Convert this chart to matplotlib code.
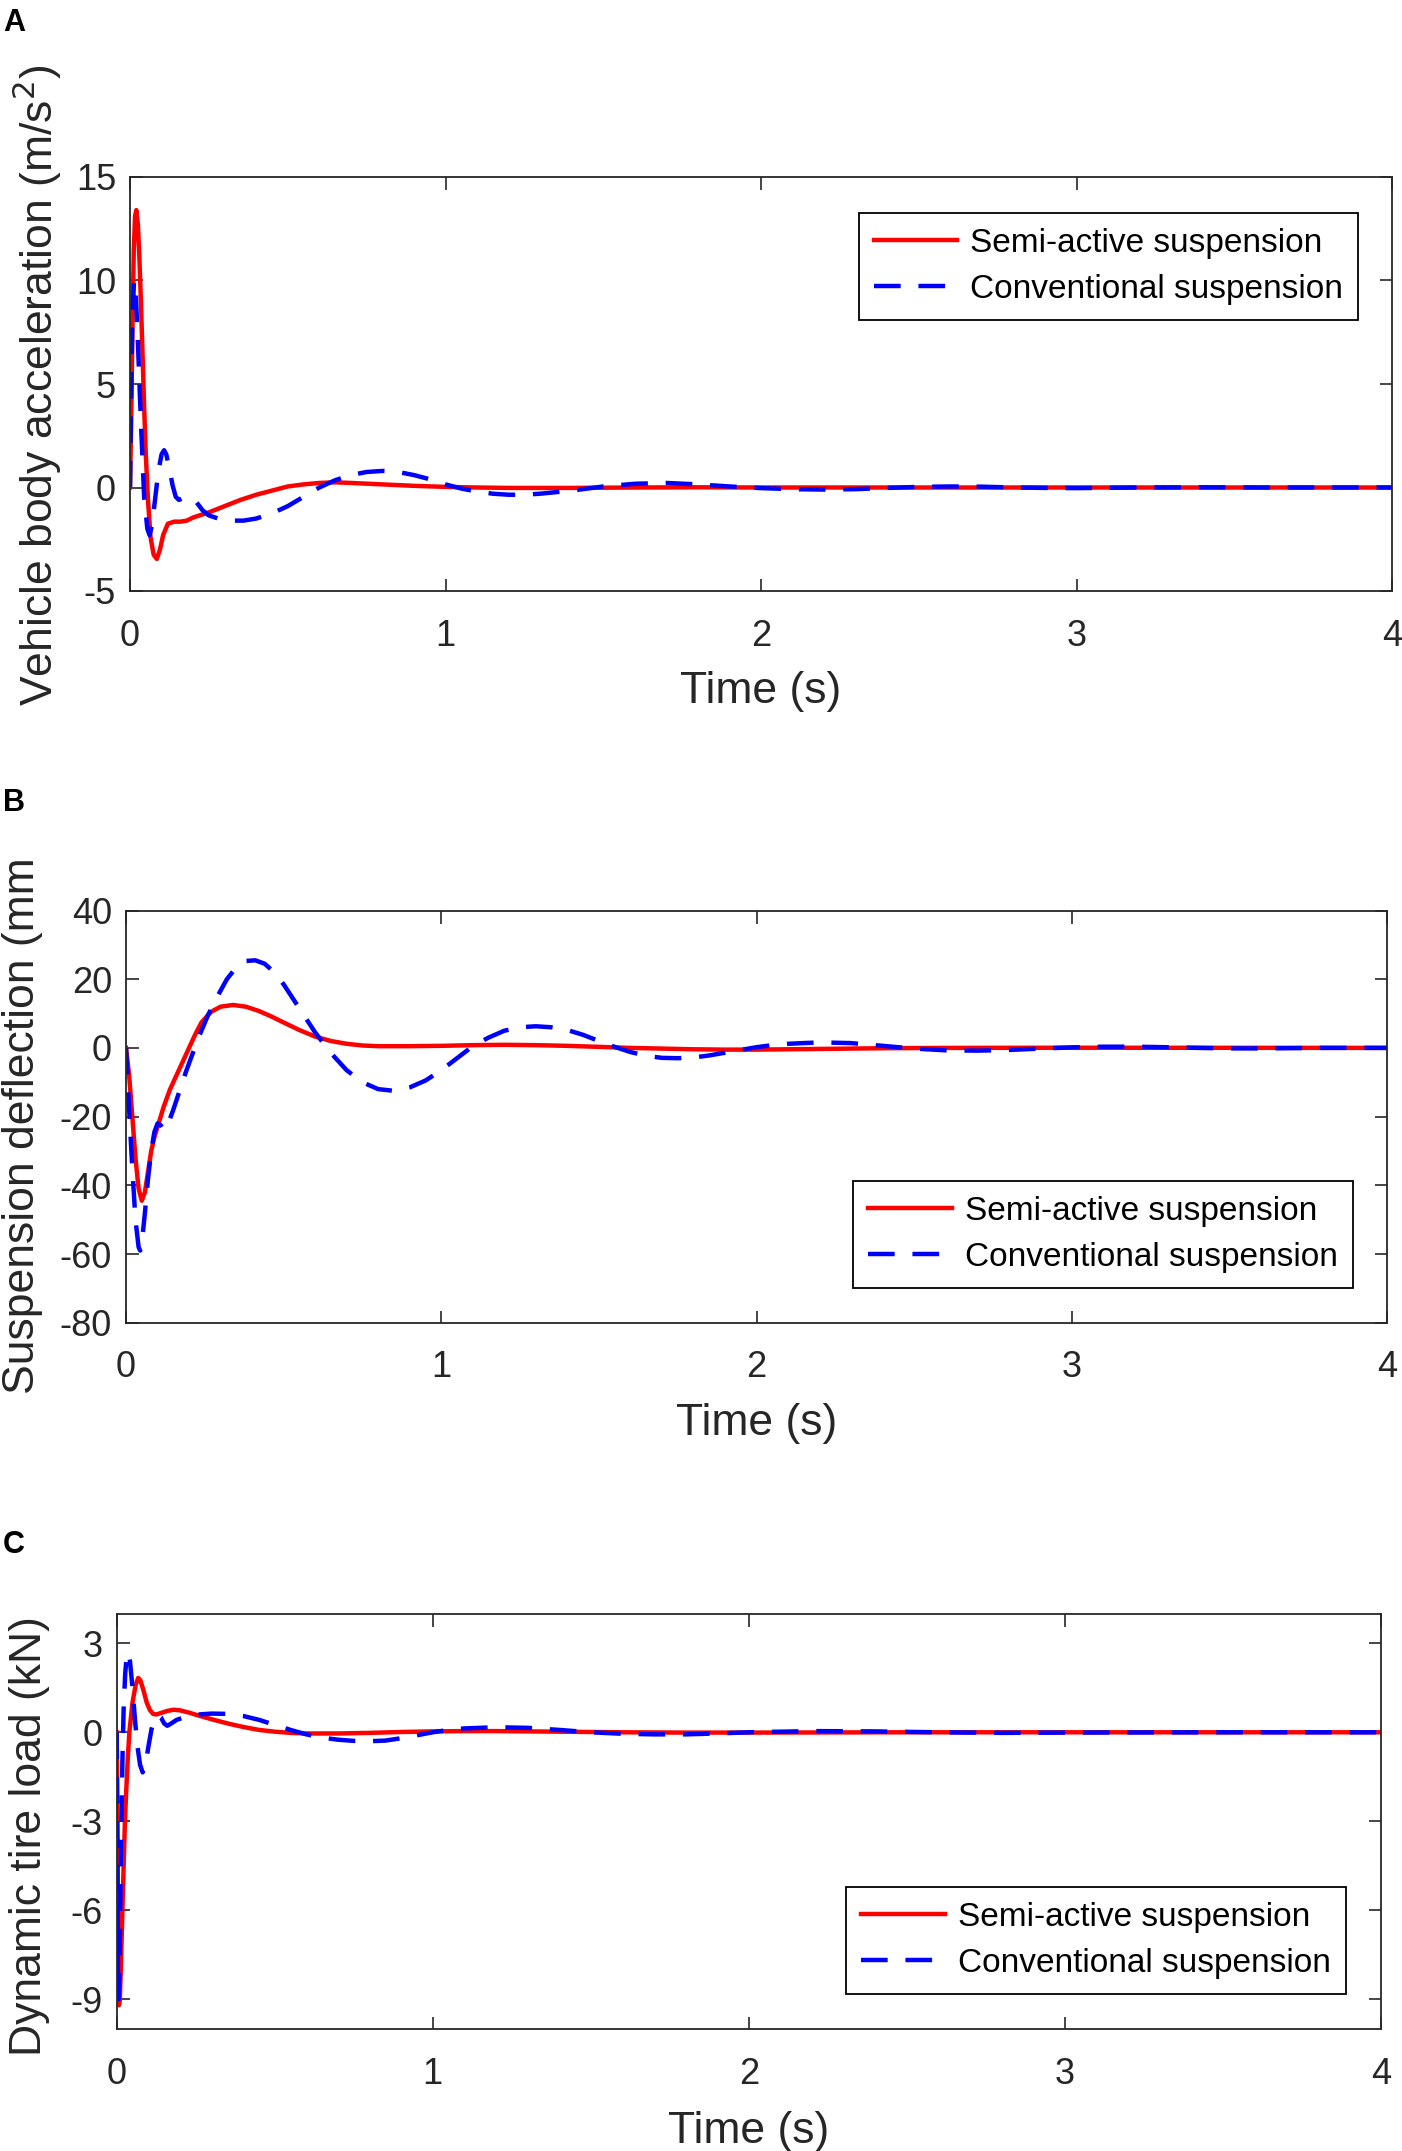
import matplotlib
matplotlib.use('Agg')
import matplotlib.pyplot as plt
from matplotlib.transforms import Bbox, TransformedBbox

plt.rcParams['font.family'] = ['Liberation Sans', 'DejaVu Sans']
plt.rcParams['axes.unicode_minus'] = False

# ---------------- panel A: vehicle body acceleration (m/s^2) ----------------
t_a_semi = [0, 0.004, 0.008, 0.012, 0.016, 0.02, 0.025, 0.03, 0.035, 0.04, 0.045, 0.05, 0.057,
            0.065, 0.075, 0.085, 0.095, 0.105, 0.12, 0.14, 0.16, 0.18, 0.2, 0.25, 0.3, 0.35,
            0.4, 0.45, 0.5, 0.55, 0.6, 0.65, 0.7, 0.8, 0.9, 1.0, 1.1, 1.2, 1.4, 1.6, 1.8,
            2.0, 2.5, 3.0, 3.5, 4.0]
acc_semi = [0, 3.5, 8.0, 11.5, 13.1, 13.4, 12.7, 11.0, 8.8, 6.3, 3.8, 1.6, -0.6,
            -2.4, -3.25, -3.45, -3.0, -2.3, -1.75, -1.65, -1.65, -1.6, -1.45, -1.2, -0.9, -0.6,
            -0.35, -0.15, 0.05, 0.15, 0.22, 0.25, 0.22, 0.15, 0.08, 0.03, 0.0, -0.02, -0.02, 0.0, 0.01,
            0.0, 0.0, 0.0, 0.0, 0.0]

t_a_conv = [0, 0.004, 0.008, 0.013, 0.018, 0.025, 0.035, 0.045, 0.055, 0.062, 0.07, 0.08, 0.09,
            0.1, 0.108, 0.115, 0.125, 0.135, 0.145, 0.155, 0.17, 0.19, 0.21, 0.23, 0.25, 0.28,
            0.32, 0.36, 0.4, 0.45, 0.5, 0.55, 0.6, 0.65, 0.7, 0.75, 0.8, 0.85, 0.9, 0.95, 1.0,
            1.05, 1.1, 1.15, 1.2, 1.25, 1.3, 1.4, 1.5, 1.6, 1.7, 1.8, 1.9, 2.0, 2.1, 2.2, 2.3,
            2.4, 2.5, 2.6, 2.7, 2.8, 2.9, 3.0, 3.2, 3.4, 3.6, 4.0]
acc_conv = [0, 5.0, 8.5, 10.0, 9.5, 7.0, 3.0, -0.5, -2.0, -2.3, -1.8, -0.5, 0.8,
            1.6, 1.8, 1.6, 0.9, 0.1, -0.45, -0.6, -0.5, -0.45, -0.7, -1.1, -1.35, -1.5,
            -1.6, -1.6, -1.5, -1.25, -0.9, -0.45, 0.0, 0.35, 0.6, 0.75, 0.8, 0.75, 0.6, 0.4, 0.15,
            -0.05, -0.2, -0.3, -0.35, -0.35, -0.3, -0.15, 0.05, 0.18, 0.22, 0.15, 0.05, -0.03, -0.08, -0.1, -0.08,
            -0.02, 0.03, 0.05, 0.04, 0.0, -0.02, -0.03, 0.0, 0.01, 0.0, 0.0]

# ---------------- panel B: suspension deflection (mm) ----------------
t_b_semi = [0, 0.01, 0.02, 0.03, 0.04, 0.05, 0.06, 0.07, 0.08, 0.09, 0.1, 0.12, 0.14, 0.16,
            0.18, 0.2, 0.22, 0.24, 0.27, 0.3, 0.34, 0.38, 0.42, 0.46, 0.5, 0.55, 0.6, 0.65,
            0.7, 0.75, 0.8, 0.9, 1.0, 1.1, 1.2, 1.3, 1.4, 1.5, 1.6, 1.7, 1.8, 1.9, 2.0, 2.1,
            2.2, 2.4, 2.6, 3.0, 4.0]
defl_semi = [0, -8, -20, -32, -41, -44.5, -42, -36, -30, -26, -23, -17, -12, -8,
             -4, 0, 4, 7.5, 10.5, 12.0, 12.5, 12.0, 10.8, 9.2, 7.4, 5.2, 3.3, 2.0,
             1.2, 0.7, 0.5, 0.5, 0.6, 0.8, 0.9, 0.8, 0.6, 0.3, 0.0, -0.2, -0.4, -0.5, -0.5, -0.4,
             -0.3, -0.1, 0.0, 0.05, 0.0]

t_b_conv = [0, 0.005, 0.01, 0.02, 0.03, 0.04, 0.045, 0.05, 0.06, 0.07, 0.08, 0.09, 0.1, 0.11,
            0.12, 0.13, 0.15, 0.17, 0.19, 0.21, 0.23, 0.26, 0.29, 0.32, 0.35, 0.38, 0.41, 0.44,
            0.47, 0.5, 0.55, 0.6, 0.65, 0.7, 0.75, 0.8, 0.85, 0.9, 0.95, 1.0, 1.05, 1.1, 1.15,
            1.2, 1.25, 1.3, 1.35, 1.4, 1.45, 1.5, 1.55, 1.6, 1.65, 1.7, 1.75, 1.8, 1.85, 1.9,
            1.95, 2.0, 2.05, 2.1, 2.2, 2.3, 2.4, 2.5, 2.6, 2.7, 2.8, 2.9, 3.0, 3.1, 3.2, 3.3,
            3.4, 3.5, 3.6, 3.8, 4.0]
defl_conv = [0, -8, -18, -35, -50, -58, -59, -57, -48, -38, -30, -24.5, -22, -22.5,
             -24, -23, -18, -12.5, -7, -2, 3, 9.5, 15, 20, 23.5, 25.3, 25.5, 24.5,
             22, 18.5, 11.5, 4.5, -1.5, -6.5, -10, -12, -12.5, -11.5, -9.5, -6.5, -3, 0.5, 3,
             5, 6, 6.3, 6, 5.2, 3.8, 2, 0.3, -1.2, -2.3, -2.9, -3, -2.8, -2.2, -1.4,
             -0.6, 0.2, 0.8, 1.2, 1.6, 1.4, 0.6, -0.2, -0.7, -0.8, -0.6, -0.2, 0.15, 0.35, 0.35, 0.2,
             0.0, -0.15, -0.15, 0.0, 0.0]

# ---------------- panel C: dynamic tire load (kN) ----------------
t_c_semi = [0, 0.002, 0.004, 0.007, 0.01, 0.014, 0.018, 0.022, 0.026, 0.03, 0.035, 0.04, 0.05,
            0.06, 0.068, 0.075, 0.085, 0.095, 0.105, 0.115, 0.125, 0.14, 0.16, 0.18, 0.2, 0.23,
            0.26, 0.3, 0.35, 0.4, 0.45, 0.5, 0.55, 0.6, 0.7, 0.8, 0.9, 1.0, 1.1, 1.2, 1.4, 1.6,
            1.8, 2.0, 2.5, 4.0]
load_semi = [0, -3, -7, -9.2, -9.0, -7.6, -6, -4.5, -3, -2, -0.9, 0, 1.0,
             1.6, 1.83, 1.75, 1.4, 1.0, 0.75, 0.62, 0.6, 0.65, 0.72, 0.76, 0.74, 0.66,
             0.56, 0.44, 0.3, 0.18, 0.08, 0.02, -0.02, -0.04, -0.04, -0.02, 0.01, 0.03, 0.04, 0.04, 0.02, 0.0,
             -0.01, -0.01, 0.0, 0.0]

t_c_conv = [0, 0.002, 0.004, 0.006, 0.008, 0.011, 0.014, 0.018, 0.022, 0.027, 0.032, 0.037, 0.042,
            0.05, 0.058, 0.066, 0.074, 0.082, 0.09, 0.1, 0.11, 0.12, 0.13, 0.14, 0.15, 0.16, 0.17,
            0.19, 0.22, 0.26, 0.3, 0.35, 0.4, 0.45, 0.5, 0.55, 0.6, 0.65, 0.7, 0.75, 0.8, 0.85,
            0.9, 0.95, 1.0, 1.05, 1.1, 1.2, 1.3, 1.4, 1.5, 1.6, 1.7, 1.8, 1.9, 2.0, 2.2, 2.4,
            2.6, 2.8, 3.0, 3.5, 4.0]
load_conv = [0, -4, -8, -9, -8.5, -6, -3.5, -1, 0.8, 2.0, 2.6, 2.7, 2.4,
             1.5, 0.4, -0.5, -1.1, -1.35, -1.2, -0.5, 0.1, 0.45, 0.58, 0.5, 0.3, 0.22, 0.28,
             0.42, 0.53, 0.6, 0.63, 0.62, 0.55, 0.42, 0.25, 0.08, -0.07, -0.18, -0.25, -0.29, -0.3, -0.28,
             -0.2, -0.1, 0.0, 0.08, 0.13, 0.17, 0.15, 0.08, 0.0, -0.05, -0.07, -0.07, -0.04, 0.0, 0.04, 0.03,
             0.0, -0.02, -0.01, 0.0, 0.0]

x_ticks = [0, 1, 2, 3, 4]
labels = ['Semi-active suspension', 'Conventional suspension']

W, H = 1402, 2151
fig = plt.figure(figsize=(W / 100, H / 100), dpi=100)
dark = '#262626'


def px_axes(left, right, top, bottom):
    return fig.add_axes([left / W, 1 - bottom / H, (right - left) / W, (bottom - top) / H])


panels = [
    dict(box=(130, 1392, 177, 591), t=(t_a_semi, t_a_conv), y=(acc_semi, acc_conv),
         ylim=(-5, 15), yticks=[-5, 0, 5, 10, 15], loc='upper right', anchor=(0.9731, 0.913),
         letter='A', letter_y=8, ylabel='Vehicle body acceleration (m/s$^2$)', ylab_xy=(37, 385),
         clip_top=None, xlab_y=691),
    dict(box=(126, 1387, 910.5, 1322.7), t=(t_b_semi, t_b_conv), y=(defl_semi, defl_conv),
         ylim=(-80, 40), yticks=[-80, -60, -40, -20, 0, 20, 40], loc='lower right',
         anchor=(0.973, 0.0842), letter='B', letter_y=788, ylabel='Suspension deflection (mm)',
         ylab_xy=(23, 1118), clip_top=858, xlab_y=1424),
    dict(box=(116.7, 1381, 1613.6, 2029), t=(t_c_semi, t_c_conv), y=(load_semi, load_conv),
         ylim=(-10, 4), yticks=[-9, -6, -3, 0, 3], loc='lower right', anchor=(0.9723, 0.0843),
         letter='C', letter_y=1530, ylabel='Dynamic tire load (kN)', ylab_xy=(30, 1836),
         clip_top=None, xlab_y=2132),
]

for p in panels:
    left, right, top, bottom = p['box']
    ax = px_axes(left, right, top, bottom)
    ax.plot(p['t'][0], p['y'][0], color='#ff0000', lw=3.2, label=labels[0])
    ax.plot(p['t'][1], p['y'][1], color='#0000ff', lw=3.2, dashes=(6, 4), label=labels[1])
    ax.set_xlim(0, 4)
    ax.set_ylim(*p['ylim'])
    ax.set_xticks(x_ticks)
    ax.set_yticks(p['yticks'])
    ax.tick_params(direction='in', top=True, right=True, length=9, width=1.2,
                   labelsize=26, colors=dark)
    ax.tick_params(axis='x', pad=20)
    ax.tick_params(axis='y', pad=10)
    for s in ax.spines.values():
        s.set_color(dark)
        s.set_linewidth(1.3)

    leg = ax.legend(loc=p['loc'], bbox_to_anchor=p['anchor'], borderaxespad=0, fontsize=24,
                    handlelength=2.5, handletextpad=0.4, labelspacing=0.45, borderpad=0.45,
                    fancybox=False, framealpha=1, edgecolor='black')
    leg.get_frame().set_linewidth(1.3)

    # panel letter
    fig.text(3 / W, 1 - p['letter_y'] / H, p['letter'], fontsize=22, fontweight='bold',
             va='top', ha='left')

    # axis labels placed in pixel positions
    cx = (left + right) / 2
    fig.text(cx / W, 1 - p['xlab_y'] / H, 'Time (s)', fontsize=32, color=dark,
             ha='center', va='center')
    yl = fig.text(p['ylab_xy'][0] / W, 1 - p['ylab_xy'][1] / H, p['ylabel'], fontsize=32,
                  color=dark, rotation=90, ha='center', va='center')
    if p['clip_top'] is not None:
        yl.set_clip_box(TransformedBbox(Bbox([[0, 0], [1, 1 - p['clip_top'] / H]]),
                                        fig.transFigure))
        yl.set_clip_on(True)

fig.savefig('out.png', dpi=100)
